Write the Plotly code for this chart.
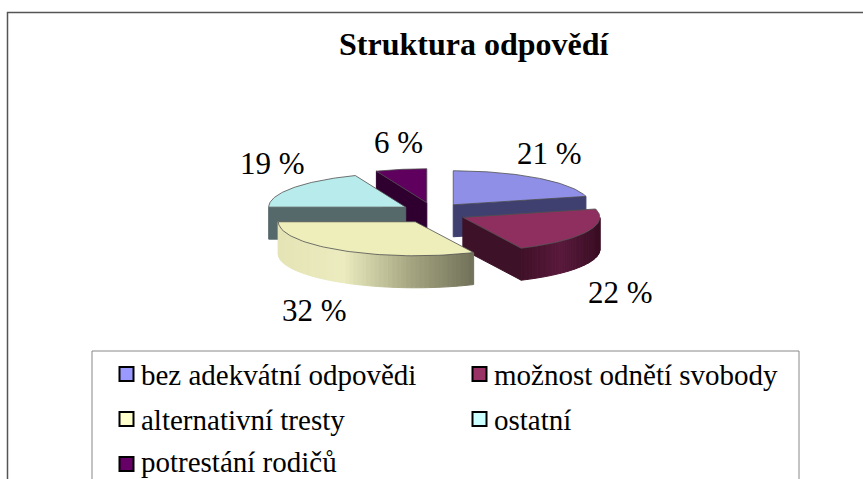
import math
import plotly.graph_objects as go

title = "Struktura odpovědí"
categories = ["bez adekvátní odpovědi", "možnost odnětí svobody", "alternativní tresty", "ostatní", "potrestání rodičů"]
values = [21, 22, 32, 19, 6]

top_colors = ["#8f8fe8", "#8f2f5f", "#eeeebb", "#b8ecec", "#5f005f"]
swatch_colors = ["#9999ff", "#993366", "#ffffcc", "#ccffff", "#660066"]
face_colors = ["#3f4070", "#3d1228", "#b0b090", "#55686a", "#2f002f"]
arc_ramps = [None,
             [(0x40, 0x10, 0x28), (0x5a, 0x1a, 0x3c), (0x3a, 0x0e, 0x24)],
             [(0xe4, 0xe4, 0xb6), (0xec, 0xec, 0xc0), (0xa8, 0xa8, 0x84), (0x72, 0x72, 0x5a)],
             None, None]
label_xy = [(549, 153), (620, 292), (314, 310), (272, 163), (398, 142)]
legend_xy = [(119, 375), (472, 375), (119, 420), (472, 420), (119, 465)]
legend_text_dy = [0, 0, 0, 0, -3]
draw_order = [0, 4, 3, 1, 2]

W, H = 863, 479
CX, CY, A, B = 433, 213, 137, 34
EX, EY, DEPTH = 33, 10.4, 32
SERIF = "Liberation Serif"
EDGE = "rgba(80,80,80,0.8)"

total = sum(values)
spans, acc = [], 0.0
for v in values:
    spans.append((acc, acc + v / total * 2 * math.pi))
    acc += v / total * 2 * math.pi


def pt(th, ox, oy, dz=0.0):
    return ox + A * math.sin(th), oy - B * math.cos(th) + dz


def mix(ramp, t):
    p = t * (len(ramp) - 1)
    i = min(int(p), len(ramp) - 2)
    f = p - i
    c = [ramp[i][k] + (ramp[i + 1][k] - ramp[i][k]) * f for k in range(3)]
    return "rgb(%d,%d,%d)" % tuple(c)


def poly(fig, pts, color, line=None):
    xs = [p[0] for p in pts] + [pts[0][0]]
    ys = [p[1] for p in pts] + [pts[0][1]]
    fig.add_trace(go.Scatter(x=xs, y=ys, mode="lines", fill="toself", fillcolor=color,
                             line=dict(color=line or color, width=1),
                             hoverinfo="skip", showlegend=False))


fig = go.Figure()
for i in draw_order:
    s, e = spans[i]
    mid = (s + e) / 2
    ox = CX + EX * math.sin(mid)
    oy = CY - EY * math.cos(mid)
    n = 60
    arc = [s + (e - s) * k / n for k in range(n + 1)]
    # radial wall facing the viewer
    if i in (0, 1):
        a = pt(e, ox, oy)
        poly(fig, [(ox, oy), a, (a[0], a[1] + DEPTH), (ox, oy + DEPTH)], face_colors[i])
    if i in (3, 4):
        a = pt(s, ox, oy)
        poly(fig, [(ox, oy), a, (a[0], a[1] + DEPTH), (ox, oy + DEPTH)], face_colors[i])
    # outer wall, shaded in strips
    if arc_ramps[i]:
        vis = [t for t in arc if math.pi / 2 <= t <= 3 * math.pi / 2]
        ordered = sorted(vis, key=lambda t: pt(t, ox, oy)[0])
        x0 = pt(ordered[0], ox, oy)[0]
        x1 = pt(ordered[-1], ox, oy)[0]
        for t0, t1 in zip(ordered[:-1], ordered[1:]):
            p0, p1 = pt(t0, ox, oy), pt(t1, ox, oy)
            col = mix(arc_ramps[i], ((p0[0] + p1[0]) / 2 - x0) / (x1 - x0))
            poly(fig, [p0, p1, (p1[0], p1[1] + DEPTH), (p0[0], p0[1] + DEPTH)], col)
    # top surface
    poly(fig, [(ox, oy)] + [pt(t, ox, oy) for t in arc], top_colors[i], EDGE)

# legend swatches
fig.add_trace(go.Scatter(
    x=[p[0] + 7.5 for p in legend_xy], y=[p[1] - 1 for p in legend_xy], mode="markers",
    marker=dict(symbol="square", size=14, color=swatch_colors, line=dict(color="#000000", width=2)),
    hoverinfo="skip", showlegend=False))

annotations = [dict(x=474, y=44, text="<b>%s</b>" % title, font=dict(family=SERIF, size=32, color="#000"))]
for v, (x, y) in zip(values, label_xy):
    annotations.append(dict(x=x, y=y, text="%d %%" % v, font=dict(family=SERIF, size=31, color="#000")))
for c, (x, y), dy in zip(categories, legend_xy, legend_text_dy):
    annotations.append(dict(x=x + 20, y=y + dy, text=c, xanchor="left",
                            font=dict(family=SERIF, size=29, color="#000")))
for a in annotations:
    a.update(xref="x", yref="y", showarrow=False)

shapes = [
    dict(type="line", x0=7, x1=W, y0=12.5, y1=12.5, line=dict(color="#555", width=1.5)),
    dict(type="line", x0=7.5, x1=7.5, y0=12, y1=H, line=dict(color="#555", width=1.5)),
    dict(type="line", x0=92, x1=799, y0=351, y1=351, line=dict(color="#888", width=1)),
    dict(type="line", x0=92, x1=92, y0=351, y1=H, line=dict(color="#888", width=1)),
    dict(type="line", x0=799, x1=799, y0=351, y1=H, line=dict(color="#888", width=1)),
]
for s in shapes:
    s.update(xref="x", yref="y", layer="below")

fig.update_layout(
    width=W, height=H, margin=dict(l=0, r=0, t=0, b=0),
    paper_bgcolor="#fff", plot_bgcolor="#fff", showlegend=False,
    xaxis=dict(range=[0, W], visible=False, fixedrange=True),
    yaxis=dict(range=[H, 0], visible=False, fixedrange=True),
    annotations=annotations, shapes=shapes,
)
fig.write_html("out.html", config=dict(displayModeBar=False),
               post_script="document.body.style.margin='0';document.documentElement.style.overflow='hidden';")
